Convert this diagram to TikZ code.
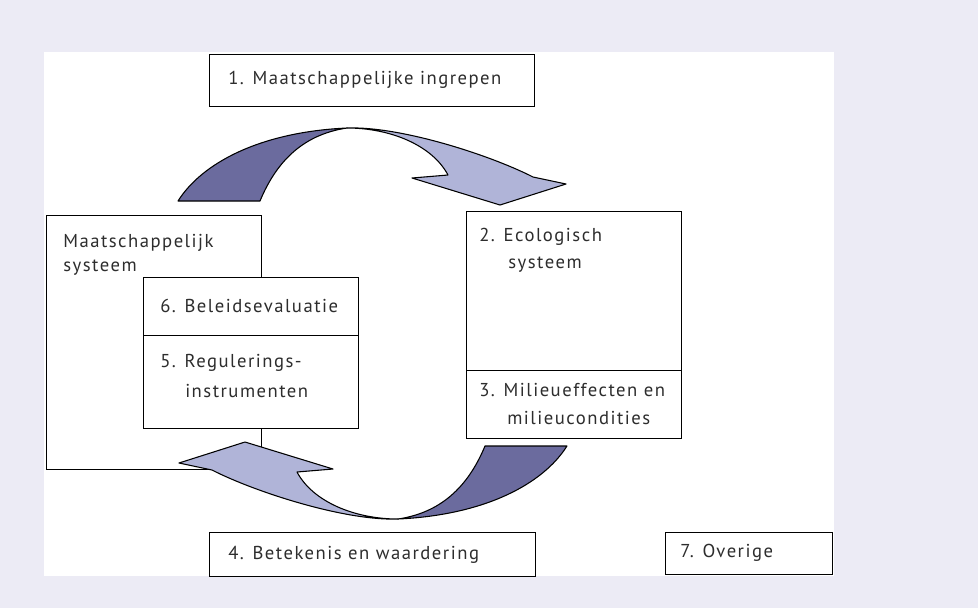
\documentclass[tikz,border=0pt]{standalone}
\usepackage{fontspec}
\setmainfont{PT Sans}[LetterSpace=8]
\definecolor{bgc}{RGB}{236,235,245}
\definecolor{arrdark}{RGB}{107,107,158}
\definecolor{arrlight}{RGB}{176,180,216}
\definecolor{txt}{RGB}{45,45,45}
\begin{document}
\begin{tikzpicture}[x=0.75pt,y=-0.75pt,
  box/.style={draw=black, line width=1pt, fill=white, anchor=north west, inner sep=0pt},
  lbl/.style={anchor=west, inner sep=0pt, text=txt, font=\fontsize{14}{17}\selectfont},
  arrd/.style={fill=arrdark, draw=black, line width=0.8pt, line join=round},
  arrl/.style={fill=arrlight, draw=black, line width=0.8pt, line join=round}]
\useasboundingbox (0,0) rectangle (978,608);
\fill[bgc] (0,0) rectangle (978,608);
\fill[white] (44,52) rectangle (834,576);
% boxes
\node[box, minimum width={325*0.75pt}, minimum height={52*0.75pt}] (b1) at (209,54) {};
\node[box, minimum width={215*0.75pt}, minimum height={254*0.75pt}] (bm) at (46,215) {};
\node[box, minimum width={215*0.75pt}, minimum height={58*0.75pt}] (b6) at (143,277) {};
\node[box, minimum width={215*0.75pt}, minimum height={93*0.75pt}] (b5) at (143,335) {};
\node[box, minimum width={215*0.75pt}, minimum height={159*0.75pt}] (b2) at (466,211) {};
\node[box, minimum width={215*0.75pt}, minimum height={68*0.75pt}] (b3) at (466,370) {};
\node[box, minimum width={326*0.75pt}, minimum height={44*0.75pt}] (b4) at (209,532) {};
\node[box, minimum width={167*0.75pt}, minimum height={42*0.75pt}] (b7) at (665,532) {};
% labels
\node[lbl] (t1) at (228,80) {1. Maatschappelijke ingrepen};
\node[lbl] (tm1) at (63,243) {Maatschappelijk};
\node[lbl] (tm2) at (63,268) {systeem};
\node[lbl] (t6) at (160,306) {6. Beleidsevaluatie};
\node[lbl] (t5a) at (160,363) {5. Regulerings-};
\node[lbl] (t5b) at (185,391) {instrumenten};
\node[lbl] (t2a) at (479,237) {2. Ecologisch};
\node[lbl] (t2b) at (508,265) {systeem};
\node[lbl] (t3a) at (479,390) {3. Milieueffecten en};
\node[lbl] (t3b) at (507,418) {milieucondities};
\node[lbl] (t4) at (228,555) {4. Betekenis en waardering};
\node[lbl] (t7) at (680,553) {7. Overige};
% top arrow
\begin{scope}
\draw[arrd] (178,201) .. controls (202,163) and (260,132) .. (347,128)
  .. controls (300,135) and (275,165) .. (260,201) -- cycle;
\draw[arrl] (347,128) .. controls (400,126) and (490,155) .. (533,177)
  -- (566,184) -- (500,205) -- (412,178) -- (448,175)
  .. controls (432,145) and (390,128) .. (347,128) -- cycle;
\end{scope}
% bottom arrow (point-symmetric copy)
\begin{scope}[rotate around={180:(372.5,323.5)}]
\draw[arrd] (178,201) .. controls (202,163) and (260,132) .. (347,128)
  .. controls (300,135) and (275,165) .. (260,201) -- cycle;
\draw[arrl] (347,128) .. controls (400,126) and (490,155) .. (533,177)
  -- (566,184) -- (500,205) -- (412,178) -- (448,175)
  .. controls (432,145) and (390,128) .. (347,128) -- cycle;
\end{scope}
\end{tikzpicture}
\end{document}
